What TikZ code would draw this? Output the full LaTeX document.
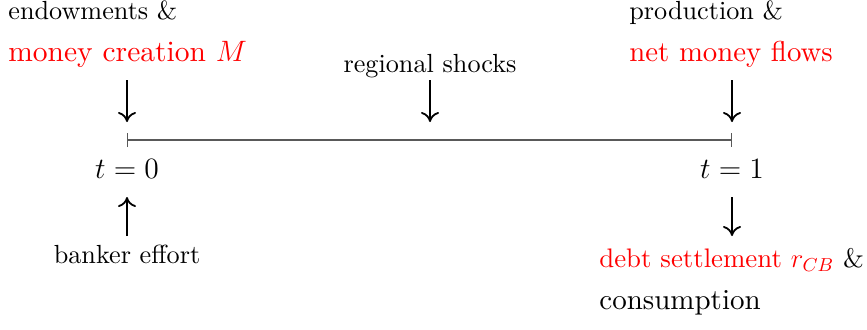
\RequirePackage{fix-cm}
\documentclass[tikz,border=0pt]{standalone}
\usepackage{fontspec}
\setmainfont{lmroman10-regular.otf}[ItalicFont=lmroman10-italic.otf, BoldFont=lmroman10-bold.otf]
\usetikzlibrary{arrows.meta}
\begin{document}
\begin{tikzpicture}[x=0.5pt,y=-0.5pt,
  big/.style={font=\fontsize{14.75}{18}\selectfont, inner sep=0},
  small/.style={font=\fontsize{13.1}{16}\selectfont, inner sep=0},
  arr/.style={-{Computer Modern Rightarrow[length=5pt,width=9pt]}, line width=0.9pt},
  timeline/.style={draw=black!65, line width=0.6pt},
  ticks/.style={{Bar[width=7pt,line width=0.6pt]}-{Bar[width=7pt,line width=0.6pt]}}]
\useasboundingbox (0,0) rectangle (867,329);
% top labels
\node[small, anchor=base west] (endow) at (8,19) {endowments \&};
\node[big, anchor=base west, text=red] (money) at (8,61) {money creation $M$};
\node[small, anchor=base] (shocks) at (430,72) {regional shocks};
\node[small, anchor=base west] (prod) at (629,19) {production \&};
\node[big, font=\fontsize{14.4}{18}\selectfont, anchor=base west, text=red] (flows) at (629,61) {net money flows};
% timeline
\coordinate (t0) at (127,140);
\coordinate (t1) at (732,140);
\draw[timeline, ticks] (t0) -- (t1);
\node[big, anchor=base] (lt0) at (127,178) {$t=0$};
\node[big, anchor=base] (lt1) at (732,178) {$t=1$};
% bottom labels
\node[small, anchor=base] (effort) at (127,263) {banker effort};
\node[big, font=\fontsize{13.4}{16}\selectfont, anchor=base west] (debt) at (599,267) {\textcolor{red}{debt settlement $r_{CB}$} \&};
\node[big, font=\fontsize{14.5}{18}\selectfont, anchor=base west] (cons) at (599,309) {consumption};
% arrows
\coordinate (a1s) at (127,80);  \coordinate (a1e) at (127,122);
\coordinate (a2s) at (430,80);  \coordinate (a2e) at (430,122);
\coordinate (a3s) at (732,80);  \coordinate (a3e) at (732,122);
\coordinate (a4s) at (127,236); \coordinate (a4e) at (127,197);
\coordinate (a5s) at (732,197); \coordinate (a5e) at (732,236);
\draw[arr] (a1s) -- (a1e);
\draw[arr] (a2s) -- (a2e);
\draw[arr] (a3s) -- (a3e);
\draw[arr] (a4s) -- (a4e);
\draw[arr] (a5s) -- (a5e);
\end{tikzpicture}
\end{document}
